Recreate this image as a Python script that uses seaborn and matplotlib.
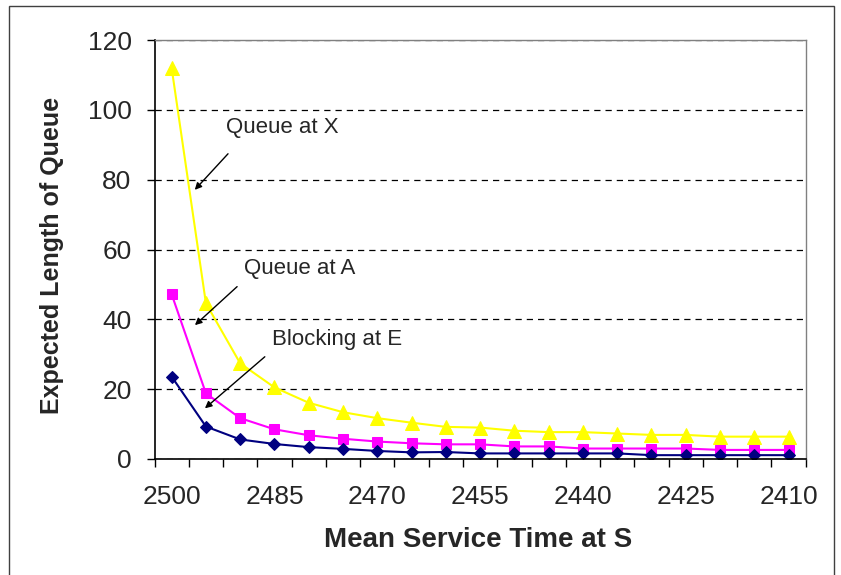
import numpy as np
import pandas as pd
import matplotlib
matplotlib.use("Agg")
import matplotlib.pyplot as plt
import seaborn as sns
from matplotlib.patches import Rectangle

# Mean service time at S (categories, plotted left to right)
service_times = [2500, 2495, 2490, 2485, 2480, 2475, 2470, 2465, 2460, 2455,
                 2450, 2445, 2440, 2435, 2430, 2425, 2420, 2415, 2410]
queue_x = [112, 44.6, 27.4, 20.5, 16.1, 13.4, 11.7, 10.4, 9.2, 9.0,
           8.1, 7.7, 7.7, 7.3, 6.9, 6.9, 6.4, 6.4, 6.4]
queue_a = [47.2, 18.8, 11.7, 8.5, 6.8, 5.8, 5.0, 4.5, 4.2, 4.2,
           3.6, 3.6, 3.0, 3.0, 3.0, 3.0, 2.6, 2.6, 2.6]
blocking_e = [23.6, 9.3, 5.6, 4.3, 3.4, 2.9, 2.3, 1.9, 2.0, 1.6,
              1.6, 1.6, 1.6, 1.6, 1.1, 1.1, 1.1, 1.1, 1.1]
label_every = 3

sns.set_style("white")
plt.rcParams['font.family'] = ['Liberation Sans', 'DejaVu Sans']

pos = np.arange(len(service_times))
df = pd.DataFrame({"pos": pos, "Queue at X": queue_x,
                   "Queue at A": queue_a, "Blocking at E": blocking_e})

fig = plt.figure(figsize=(8.41, 5.75), dpi=100)
ax = fig.add_axes([154.5/841, 1-459/575, 651.2/841, 419/575])

series = [("Queue at X", "#FFFF00", "^", 9.5),
          ("Queue at A", "#FF00FF", "s", 7),
          ("Blocking at E", "#000080", "D", 6)]
for name, col, mk, ms in series:
    sns.lineplot(data=df, x="pos", y=name, ax=ax, color=col, marker=mk,
                 markersize=ms, markeredgecolor=col, linewidth=1.5)

ax.set_xlim(-0.5, len(service_times) - 0.5)
ax.set_ylim(0, 120)
ax.set_yticks(np.arange(0, 121, 20))
ax.tick_params(axis='y', labelsize=19, direction='out', length=6, width=1,
               left=True, color='black', pad=10.5)
ax.set_xticks(pos[::label_every])
ax.set_xticklabels([str(t) for t in service_times[::label_every]])
ax.set_xticks(np.arange(-0.5, len(service_times), 1), minor=True)
ax.tick_params(axis='x', which='major', length=0, labelsize=19, pad=18.5)
ax.tick_params(axis='x', which='minor', direction='out', length=6, width=1,
               bottom=True, color='black')

ax.yaxis.grid(True, linestyle=(0, (5, 4)), color='black', linewidth=0.9)
ax.xaxis.grid(False)
for s in ['left', 'bottom']:
    ax.spines[s].set_color('black')
    ax.spines[s].set_linewidth(1.2)
for s in ['top', 'right']:
    ax.spines[s].set_color('#808080')
    ax.spines[s].set_linewidth(1.0)

ax.set_xlabel("")
ax.set_ylabel("")
fig.text(478.5/841, 1-540/575, "Mean Service Time at S", fontsize=20,
         fontweight='bold', ha='center', va='center')
fig.text(52/841, 1-255.5/575, "Expected Length of Queue", fontsize=18,
         fontweight='bold', ha='center', va='center', rotation=90)

# annotations
notes = [("Queue at X", (1.60, 94.8), (1.70, 88.0), (0.62, 76.5)),
         ("Queue at A", (2.10, 54.7), (1.97, 49.9), (0.62, 37.8)),
         ("Blocking at E", (2.92, 34.1), (2.78, 29.8), (0.91, 14.0))]
for txt, tpos, a0, a1 in notes:
    ax.text(tpos[0], tpos[1], txt, fontsize=16, ha='left', va='center')
    ax.annotate("", xy=a1, xytext=a0,
                arrowprops=dict(arrowstyle='-|>', color='black', lw=1,
                                mutation_scale=10))

fig.patches.append(Rectangle((9/841, -0.05), 825/841, 1.05 - 6/575,
                             transform=fig.transFigure, fill=False,
                             edgecolor='#404040', linewidth=1))

fig.savefig("out.png", dpi=100)
